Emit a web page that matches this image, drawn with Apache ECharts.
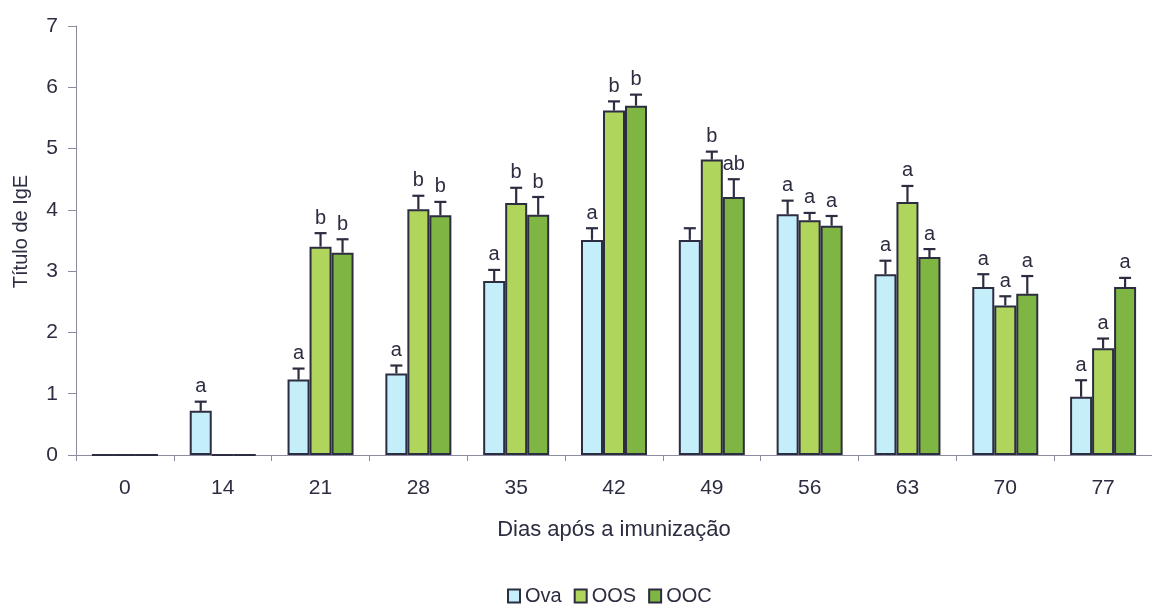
<!DOCTYPE html>
<html>
<head>
<meta charset="utf-8">
<script src="https://cdn.jsdelivr.net/npm/echarts@6/dist/echarts.min.js"></script>
<style>
  html, body { margin: 0; padding: 0; background: #ffffff; }
  #chart { width: 1152px; height: 610px; }
</style>
</head>
<body>
<div id="chart"></div>
<script>
// Days after immunization (categories)
const days = ['0', '14', '21', '28', '35', '42', '49', '56', '63', '70', '77'];

// Mean IgE titre per group
const ova = [0, 0.72, 1.23, 1.33, 2.84, 3.51, 3.51, 3.93, 2.95, 2.74, 0.95];
const oos = [0, 0, 3.40, 4.01, 4.11, 5.62, 4.82, 3.83, 4.13, 2.44, 1.74];
const ooc = [0, 0, 3.30, 3.91, 3.92, 5.70, 4.21, 3.74, 3.23, 2.63, 2.74];

// Upper error (standard error) per group; null = no error bar
const ovaErr = [null, 0.15, 0.18, 0.13, 0.18, 0.19, 0.19, 0.22, 0.22, 0.21, 0.27];
const oosErr = [null, null, 0.22, 0.22, 0.25, 0.15, 0.13, 0.12, 0.26, 0.15, 0.16];
const oocErr = [null, null, 0.22, 0.22, 0.29, 0.18, 0.29, 0.16, 0.13, 0.29, 0.15];

// Significance letters above each bar
const ovaSig = ['', 'a', 'a', 'a', 'a', 'a', '', 'a', 'a', 'a', 'a'];
const oosSig = ['', '', 'b', 'b', 'b', 'b', 'b', 'a', 'a', 'a', 'a'];
const oocSig = ['', '', 'b', 'b', 'b', 'b', 'ab', 'a', 'a', 'a', 'a'];

const groupNames = ['Ova', 'OOS', 'OOC'];
const groupColors = ['#c4eef9', '#b0d55c', '#7fb543'];
const BAR_W = 22;
const INK = '#2c2d40';
const AXIS = '#8c8ca0';
const FONT = '"Liberation Sans", Arial, sans-serif';

const means = [ova, oos, ooc];
const errs = [ovaErr, oosErr, oocErr];
const sigs = [ovaSig, oosSig, oocSig];

// Error bar + letter rows: [category index, mean, error, group index, letter]
const errRows = [];
means.forEach((vals, g) => {
  vals.forEach((v, i) => {
    if (errs[g][i] !== null) errRows.push([i, v, errs[g][i], g, sigs[g][i]]);
  });
});

const chart = echarts.init(document.getElementById('chart'), null, { renderer: 'canvas' });

const barSeries = groupNames.map((name, g) => ({
  name: name,
  type: 'bar',
  data: means[g],
  barWidth: BAR_W,
  barGap: '0%',
  itemStyle: { color: groupColors[g], borderColor: INK, borderWidth: 2 },
  emphasis: { disabled: true },
  animation: false
}));

const errSeries = {
  type: 'custom',
  name: 'err',
  data: errRows,
  z: 5,
  animation: false,
  renderItem: function (params, api) {
    const cat = api.value(0);
    const mean = api.value(1);
    const err = api.value(2);
    const g = api.value(3);
    const letter = errRows[params.dataIndex][4];
    const base = api.coord([cat, mean]);
    const top = api.coord([cat, mean + err]);
    const x = base[0] + (g - 1) * BAR_W;
    const children = [
      { type: 'line', shape: { x1: x, y1: base[1], x2: x, y2: top[1] },
        style: { stroke: INK, lineWidth: 2.2 } },
      { type: 'line', shape: { x1: x - 6, y1: top[1], x2: x + 6, y2: top[1] },
        style: { stroke: INK, lineWidth: 2.2 } }
    ];
    if (letter) {
      children.push({
        type: 'text',
        style: {
          text: letter, x: x, y: top[1] - 5,
          textAlign: 'center', textVerticalAlign: 'bottom',
          fill: INK, font: '20px ' + FONT
        }
      });
    }
    return { type: 'group', children: children };
  }
};

chart.setOption({
  backgroundColor: '#ffffff',
  textStyle: { fontFamily: FONT },
  grid: { left: 76, right: -5, top: 26, bottom: 155 },
  legend: {
    data: groupNames,
    bottom: -1,
    left: 502,
    icon: 'rect',
    itemWidth: 12,
    itemHeight: 13,
    itemGap: 12,
    textStyle: { fontSize: 20, color: INK, fontFamily: FONT }
  },
  xAxis: {
    type: 'category',
    data: days,
    name: 'Dias após a imunização',
    nameLocation: 'middle',
    nameGap: 64,
    nameTextStyle: { fontSize: 22, color: INK, fontFamily: FONT },
    axisLine: { lineStyle: { color: AXIS, width: 1 } },
    axisTick: { show: true, interval: 0, length: 6, lineStyle: { color: AXIS } },
    axisLabel: { fontSize: 21, color: INK, margin: 23, fontFamily: FONT }
  },
  yAxis: {
    type: 'value',
    min: 0,
    max: 7,
    interval: 1,
    name: 'Título de IgE',
    nameLocation: 'middle',
    nameGap: 45,
    nameTextStyle: { fontSize: 20, color: INK, fontFamily: FONT, padding: [0, 0, 0, 18] },
    axisLine: { show: true, lineStyle: { color: AXIS, width: 1 } },
    axisTick: { show: true, length: 8, lineStyle: { color: AXIS } },
    axisLabel: { fontSize: 21, color: INK, margin: 18, fontFamily: FONT },
    splitLine: { show: false }
  },
  series: barSeries.concat([errSeries])
});
</script>
</body>
</html>
